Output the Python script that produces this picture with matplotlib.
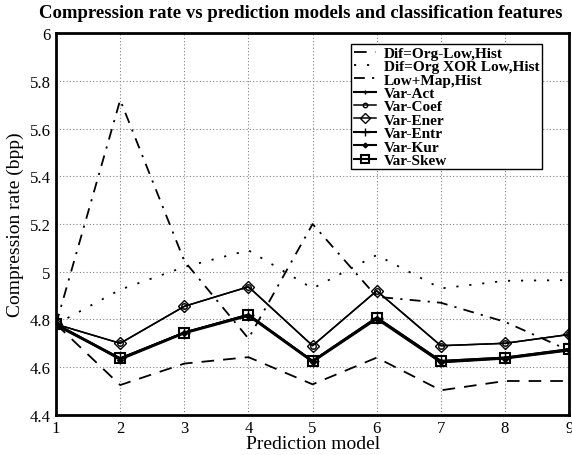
import matplotlib.pyplot as plt

models = [1, 2, 3, 4, 5, 6, 7, 8, 9]

dif_low = [4.78, 4.525, 4.615, 4.642, 4.528, 4.64, 4.503, 4.542, 4.542]
dif_xor = [4.78, 4.925, 5.02, 5.09, 4.93, 5.07, 4.93, 4.962, 4.965]
low_map = [4.78, 5.72, 5.045, 4.72, 5.2, 4.895, 4.87, 4.79, 4.67]
var_act = [4.775, 4.635, 4.745, 4.818, 4.625, 4.805, 4.622, 4.638, 4.672]
var_coef = [4.78, 4.70, 4.855, 4.937, 4.69, 4.92, 4.69, 4.70, 4.737]
var_ener = [4.78, 4.70, 4.855, 4.937, 4.69, 4.92, 4.69, 4.70, 4.737]
var_entr = [4.78, 4.637, 4.745, 4.82, 4.626, 4.808, 4.626, 4.64, 4.675]
var_kur = [4.78, 4.632, 4.742, 4.815, 4.622, 4.802, 4.62, 4.636, 4.67]
var_skew = [4.78, 4.637, 4.745, 4.82, 4.626, 4.808, 4.626, 4.64, 4.675]

yticks = [4.4, 4.6, 4.8, 5.0, 5.2, 5.4, 5.6, 5.8, 6.0]
ylabels = ["4.4", "4.6", "4.8", "5", "5.2", "5.4", "5.6", "5.8", "6"]

plt.rcParams['font.family'] = ['Liberation Serif', 'DejaVu Serif']

fig = plt.figure(figsize=(5.72, 4.56), dpi=100)
ax = fig.add_axes([0.098, 0.088, 0.897, 0.837])

ax.plot(models, dif_low, color="black", lw=1.3, dashes=(7, 5), label="Dif=Org-Low,Hist")
ax.plot(models, dif_xor, color="black", lw=1.3, dashes=(1.2, 6), label="Dif=Org XOR Low,Hist")
ax.plot(models, low_map, color="black", lw=1.3, dashes=(6, 4, 1.2, 4), label="Low+Map,Hist")
ax.plot(models, var_act, color="black", lw=1.5, marker="+", ms=3, label="Var-Act")
ax.plot(models, var_coef, color="black", lw=1.1, marker="o", ms=4, mfc="none", label="Var-Coef")
ax.plot(models, var_ener, color="black", lw=1.1, marker="D", ms=6, mfc="none", label="Var-Ener")
ax.plot(models, var_entr, color="black", lw=1.5, marker="+", ms=8, label="Var-Entr")
ax.plot(models, var_kur, color="black", lw=1.5, marker="D", ms=3, label="Var-Kur")
ax.plot(models, var_skew, color="black", lw=1.5, marker="s", ms=7, mfc="none", mew=1.5, label="Var-Skew")

ax.set_xlim(1, 9)
ax.set_ylim(4.4, 6)
ax.set_xticks(models)
ax.set_yticks(yticks)
ax.set_yticklabels(ylabels)
ax.tick_params(labelsize=12, length=0, pad=4)
ax.grid(True, color="gray", linestyle=(0, (1, 2)), linewidth=0.8)
for s in ax.spines.values():
    s.set_linewidth(2)

ax.set_xlabel("Prediction model", fontsize=14, labelpad=-1)
ax.set_ylabel("Compression rate (bpp)", fontsize=14, labelpad=4)
fig.suptitle("Compression rate vs prediction models and classification features",
             fontsize=13.5, fontweight="bold", x=0.525, y=0.99)

leg = ax.legend(loc="upper right", bbox_to_anchor=(0.962, 0.992), fancybox=False,
                edgecolor="black", framealpha=1, borderpad=0.15, labelspacing=-0.02,
                handlelength=1.5, handletextpad=0.5, markerscale=0.8,
                prop={'weight': 'bold', 'size': 11})
leg.get_frame().set_linewidth(1.0)

fig.savefig("out.png")
